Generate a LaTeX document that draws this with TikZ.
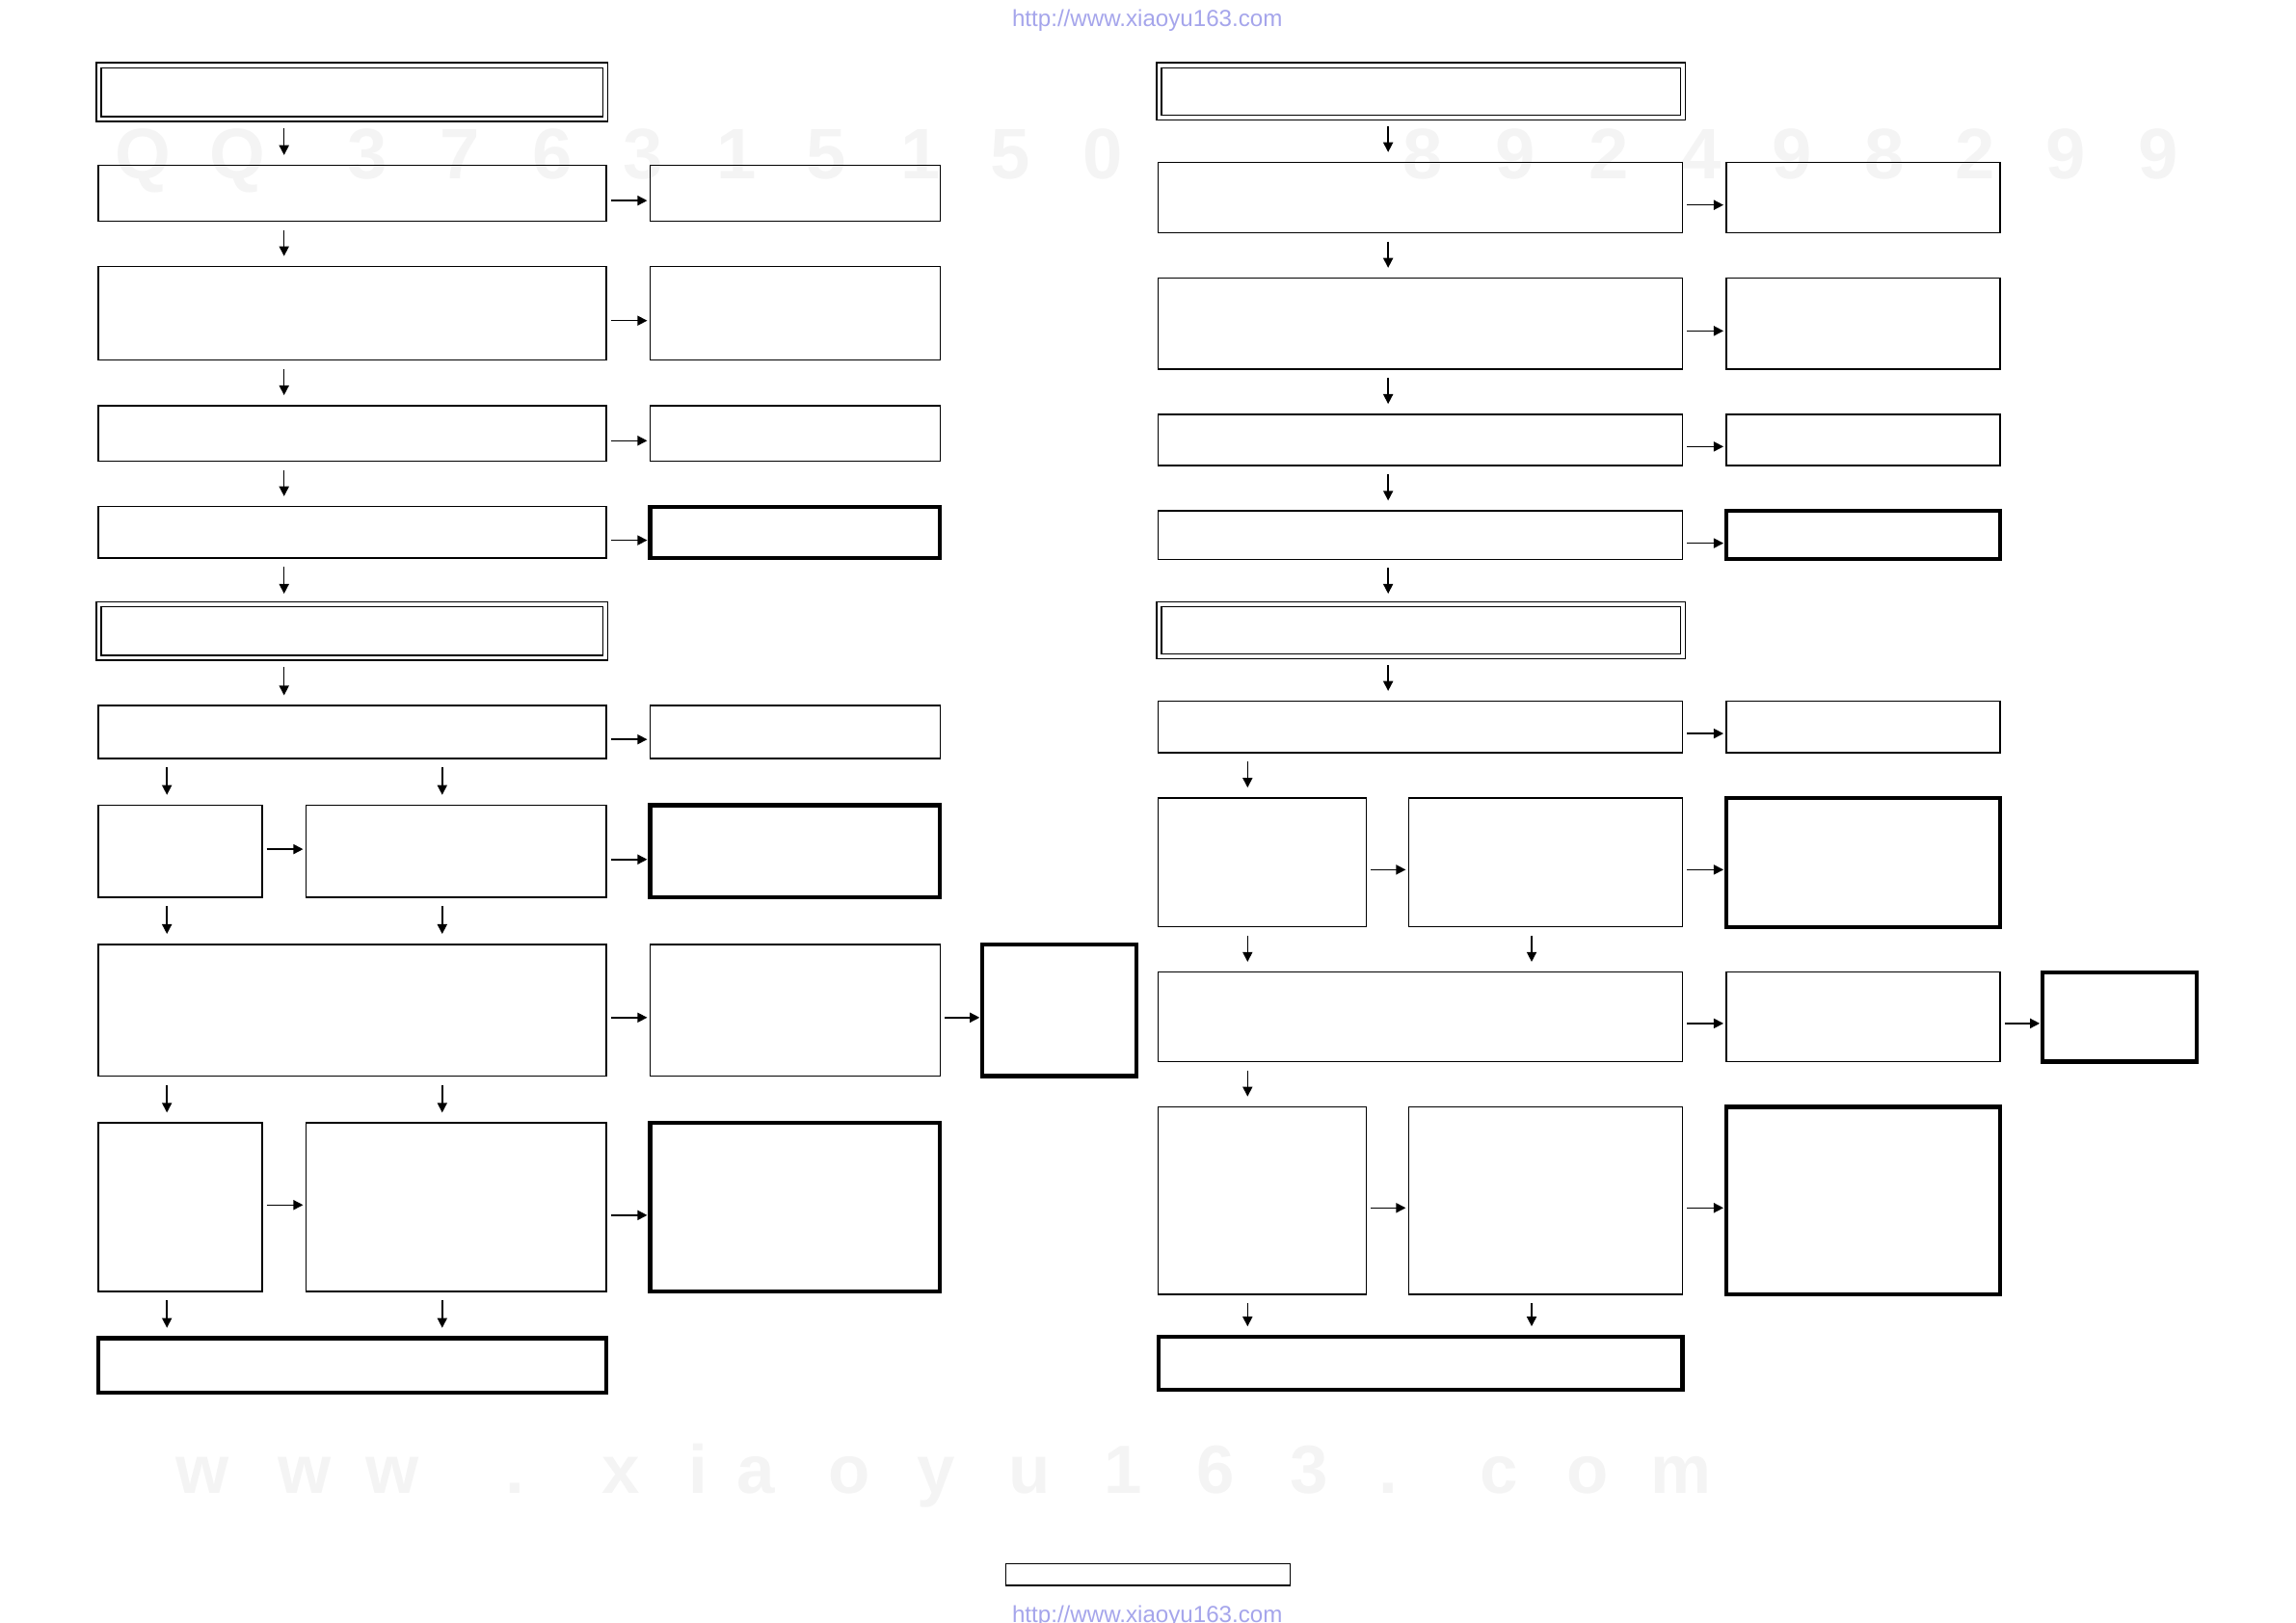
\documentclass[tikz,border=0pt]{standalone}
\usepackage{fontspec}
\setmainfont{Liberation Sans}
\usetikzlibrary{arrows.meta}
\definecolor{urlc}{RGB}{165,165,235}
\definecolor{wmc}{RGB}{244,244,244}
\newcommand\bx[6]{\node[#1, minimum width={(#5-#3)*0.45pt}, minimum height={(#6-#4)*0.45pt}] (#2) at ({(#3+#5)/2},{-(#4+#6)/2}) {};}
\newcommand\vArr[3]{\coordinate (tmpc) at (#3,0); \draw[varr] (#1.south -| tmpc) -- (#2.north -| tmpc);}
\newcommand\hArr[3]{\coordinate (tmpc) at (0,-#3); \draw[harr] (#1.east |- tmpc) -- (#2.west |- tmpc);}
\begin{document}
\begin{tikzpicture}[x=0.45pt,y=0.45pt,
  every node/.style={inner sep=0pt,outer sep=0pt},
  thin box/.style={draw,rectangle,line width=0.45pt},
  thick box/.style={draw,rectangle,line width=1.25pt},
  dbl box/.style={draw,rectangle,line width=0.45pt,double,double distance=1.05pt},
  arr/.style={line width=0.45pt,-{Triangle[length=3pt,width=3pt]}},
  varr/.style={arr,shorten <=2.7pt,shorten >=3.2pt},
  harr/.style={arr,shorten <=1.4pt,shorten >=0.9pt},
  urltxt/.style={text=urlc,font=\fontsize{7.15pt}{8pt}\selectfont,anchor=base},
  wm/.style={text=wmc,font=\fontsize{22pt}{24pt}\selectfont\bfseries,anchor=base}]
\useasboundingbox (0,0) rectangle (1568,-1108.5);
% faint watermarks
\foreach \x/\c [count=\i] in {98/Q,162/Q,251/3,314/7,377/6,439/3,503/1,564/5,629/1,690/5,753/0,972/8,1035/9,1099/2,1162/4,1224/9,1287/8,1349/2,1411/9,1474/9}
  \node[wm] (wq\i) at (\x,-122) {\c};
\foreach \x/\c [count=\i] in {138/w,208/w,268/w,352/.,424/x,477/i,516/a,580/o,639/y,703/u,767/1,830/6,894/3,948/.,1024/c,1084/o,1148/m}
  \node[wm,font=\fontsize{21pt}{23pt}\selectfont\bfseries] (ww\i) at (\x,-1020) {\c};
% url texts
\node[urltxt] (urltop) at (783.5,-18) {http://www.xiaoyu163.com};
\node[urltxt] (urlbot) at (783.5,-1108.3) {http://www.xiaoyu163.com};
% left column
\bx{dbl box}{T1}{67.6}{44.6}{413.4}{81.4}
\bx{thin box}{B1}{67}{113}{414}{151}
\bx{thin box}{B2}{444}{113}{642}{151}
\bx{thin box}{C1}{67}{182}{414}{246}
\bx{thin box}{C2}{444}{182}{642}{246}
\bx{thin box}{D1}{67}{277}{414}{315}
\bx{thin box}{D2}{444}{277}{642}{315}
\bx{thin box}{E1}{67}{346}{414}{381}
\bx{thick box}{E2}{444}{346}{642}{381}
\bx{dbl box}{T2}{67.6}{412.6}{413.4}{449.4}
\bx{thin box}{G1}{67}{482}{414}{518}
\bx{thin box}{G2}{444}{482}{642}{518}
\bx{thin box}{H1}{67}{550}{179}{613}
\bx{thin box}{H2}{209}{550}{414}{613}
\bx{thick box}{H3}{444}{550}{642}{613}
\bx{thin box}{I1}{67}{645}{414}{735}
\bx{thin box}{I2}{444}{645}{642}{735}
\bx{thick box}{I3}{671}{645}{776}{735}
\bx{thin box}{J1}{67}{767}{179}{882}
\bx{thin box}{J2}{209}{767}{414}{882}
\bx{thick box}{J3}{444}{767}{642}{882}
\bx{thick box}{K1}{67}{914}{414}{951}
% right column
\bx{dbl box}{RT1}{791.6}{44.6}{1149.4}{80.4}
\bx{thin box}{RB1}{791}{111}{1149}{159}
\bx{thin box}{RB2}{1179}{111}{1366}{159}
\bx{thin box}{RC1}{791}{190}{1149}{252}
\bx{thin box}{RC2}{1179}{190}{1366}{252}
\bx{thin box}{RD1}{791}{283}{1149}{318}
\bx{thin box}{RD2}{1179}{283}{1366}{318}
\bx{thin box}{RE1}{791}{349}{1149}{382}
\bx{thick box}{RE2}{1179}{349}{1366}{382}
\bx{dbl box}{RT2}{791.6}{412.6}{1149.4}{448.4}
\bx{thin box}{RG1}{791}{479}{1149}{514}
\bx{thin box}{RG2}{1179}{479}{1366}{514}
\bx{thin box}{RH1}{791}{545}{933}{633}
\bx{thin box}{RH2}{962}{545}{1149}{633}
\bx{thick box}{RH3}{1179}{545}{1366}{633}
\bx{thin box}{RI1}{791}{664}{1149}{725}
\bx{thin box}{RI2}{1179}{664}{1366}{725}
\bx{thick box}{RI3}{1395}{664}{1500}{725}
\bx{thin box}{RJ1}{791}{756}{933}{884}
\bx{thin box}{RJ2}{962}{756}{1149}{884}
\bx{thick box}{RJ3}{1179}{756}{1366}{884}
\bx{thick box}{RK1}{791}{913}{1149}{949}
% page label box
\bx{thin box}{PG}{687}{1068}{881}{1083}
% left arrows
\vArr{T1}{B1}{194}
\vArr{B1}{C1}{194}
\vArr{C1}{D1}{194}
\vArr{D1}{E1}{194}
\vArr{E1}{T2}{194}
\vArr{T2}{G1}{194}
\vArr{G1}{H1}{114}
\vArr{G1}{H2}{302}
\vArr{H1}{I1}{114}
\vArr{H2}{I1}{302}
\vArr{I1}{J1}{114}
\vArr{I1}{J2}{302}
\vArr{J1}{K1}{114}
\vArr{J2}{K1}{302}
\hArr{B1}{B2}{137}
\hArr{C1}{C2}{219}
\hArr{D1}{D2}{301}
\hArr{E1}{E2}{369}
\hArr{G1}{G2}{505}
\hArr{H1}{H2}{580}
\hArr{H2}{H3}{587}
\hArr{I1}{I2}{695}
\hArr{I2}{I3}{695}
\hArr{J1}{J2}{823}
\hArr{J2}{J3}{830}
% right arrows
\vArr{RT1}{RB1}{948}
\vArr{RB1}{RC1}{948}
\vArr{RC1}{RD1}{948}
\vArr{RD1}{RE1}{948}
\vArr{RE1}{RT2}{948}
\vArr{RT2}{RG1}{948}
\vArr{RG1}{RH1}{852}
\vArr{RH1}{RI1}{852}
\vArr{RH2}{RI1}{1046}
\vArr{RI1}{RJ1}{852}
\vArr{RJ1}{RK1}{852}
\vArr{RJ2}{RK1}{1046}
\hArr{RB1}{RB2}{140}
\hArr{RC1}{RC2}{226}
\hArr{RD1}{RD2}{305}
\hArr{RE1}{RE2}{371}
\hArr{RG1}{RG2}{501}
\hArr{RH1}{RH2}{594}
\hArr{RH2}{RH3}{594}
\hArr{RI1}{RI2}{699}
\hArr{RI2}{RI3}{699}
\hArr{RJ1}{RJ2}{825}
\hArr{RJ2}{RJ3}{825}
\end{tikzpicture}
\end{document}
